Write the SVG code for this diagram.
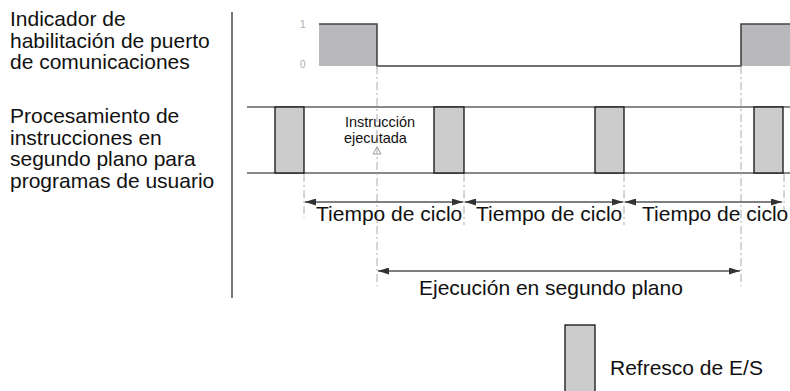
<svg xmlns="http://www.w3.org/2000/svg" width="790" height="391" viewBox="0 0 790 391">
<defs>
<marker id="ah" viewBox="0 0 11 7" refX="11" refY="3.5" markerWidth="11" markerHeight="7" markerUnits="userSpaceOnUse" orient="auto-start-reverse">
<path d="M0,0 L11,3.5 L0,7 Z" fill="#333"/>
</marker>
</defs>
<style>
text{font-family:"Liberation Sans",Arial,sans-serif;fill:#111}
.lbl{font-size:21px}
.small{font-size:14.5px}
.tick{font-size:10px;fill:#aaa}
.io{fill:#cccccc;stroke:#111;stroke-width:1.3}
.sig{fill:#b9b9bd;stroke:none}
.sl{fill:none;stroke:#444;stroke-width:1.6}
.rail{stroke:#888;stroke-width:2}
.dash{stroke:#aaa;stroke-width:1;stroke-dasharray:8 3 2 3;fill:none}
.arr{stroke:#555;stroke-width:1.5;marker-start:url(#ah);marker-end:url(#ah)}
</style>
<rect width="790" height="391" fill="#fff"/>
<g id="labels">
<text class="lbl" x="10" y="26">Indicador de</text>
<text class="lbl" x="10" y="47.5">habilitación de puerto</text>
<text class="lbl" x="10" y="69">de comunicaciones</text>
<text class="lbl" x="10" y="123">Procesamiento de</text>
<text class="lbl" x="10" y="144.5">instrucciones en</text>
<text class="lbl" x="10" y="166">segundo plano para</text>
<text class="lbl" x="10" y="187.5">programas de usuario</text>
</g>
<line x1="232" y1="12" x2="232" y2="298" stroke="#555" stroke-width="1.6"/>
<g id="signal">
<text class="tick" x="300" y="28">1</text>
<text class="tick" x="300" y="68">0</text>
<rect class="sig" x="319" y="24" width="58" height="42"/>
<rect class="sig" x="741" y="24" width="50" height="42"/>
<path class="sl" d="M319,24 H377 V66 H741 V24 H790"/>
</g>
<g id="rails">
<line class="rail" x1="247" y1="107" x2="790" y2="107"/>
<line class="rail" x1="247" y1="173" x2="790" y2="173"/>
</g>
<g id="io-refresh">
<rect class="io" x="275" y="107" width="29" height="66"/>
<rect class="io" x="434" y="107" width="30" height="66"/>
<rect class="io" x="595" y="107" width="29" height="66"/>
<rect class="io" x="754" y="107" width="29" height="66"/>
</g>
<g id="instr">
<text class="small" x="345" y="127">Instrucción</text>
<text class="small" x="344" y="143">ejecutada</text>
<path d="M377,147 L381,154 L373,154 Z" fill="none" stroke="#999" stroke-width="1"/>
</g>
<g id="connectors">
<line class="dash" x1="304" y1="174" x2="304" y2="218"/>
<line class="dash" x1="377" y1="66" x2="377" y2="286"/>
<line class="dash" x1="464" y1="174" x2="464" y2="225"/>
<line class="dash" x1="624" y1="174" x2="624" y2="225"/>
<line class="dash" x1="741" y1="66" x2="741" y2="286"/>
<line class="dash" x1="784" y1="174" x2="784" y2="212"/>
<line class="arr" x1="305" y1="202" x2="463" y2="202"/>
<line class="arr" x1="465" y1="202" x2="623" y2="202"/>
<line class="arr" x1="625" y1="202" x2="782" y2="202"/>
<line class="arr" x1="378" y1="271" x2="740" y2="271"/>
</g>
<g id="cycle-labels">
<text class="lbl" x="316" y="221">Tiempo de ciclo</text>
<text class="lbl" x="476" y="221">Tiempo de ciclo</text>
<text class="lbl" x="642" y="221">Tiempo de ciclo</text>
<text class="lbl" x="419" y="295">Ejecución en segundo plano</text>
</g>
<g id="legend">
<rect class="io" x="565" y="325" width="30" height="70"/>
<text class="lbl" x="610" y="375">Refresco de E/S</text>
</g>
</svg>
